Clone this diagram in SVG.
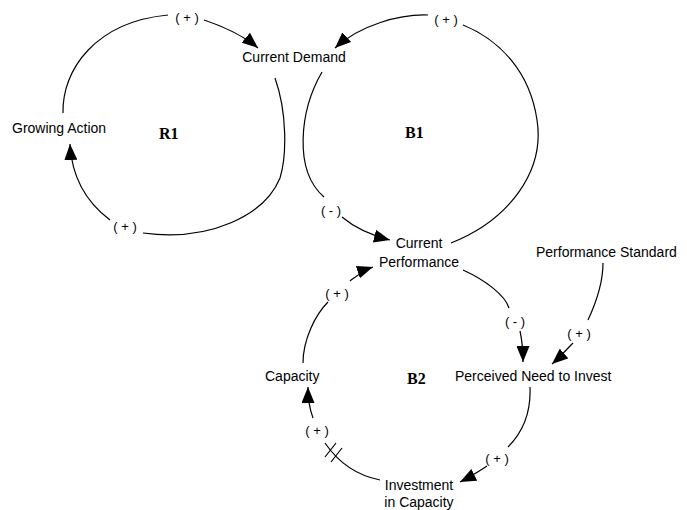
<svg xmlns="http://www.w3.org/2000/svg" width="687" height="510" viewBox="0 0 687 510">
  <style>
    .node { font-family: "Liberation Sans", Arial, sans-serif; font-size: 14px; fill: #000; }
    .pol { font-family: "Liberation Sans", Arial, sans-serif; font-size: 13px; fill: #000; text-anchor: middle; }
    .loop { font-family: "Liberation Serif", "Times New Roman", serif; font-size: 16px; font-weight: bold; fill: #000; }
    .link { fill: none; stroke: #000; stroke-width: 1.2; }
    .arr { marker-end: url(#ah); }
  </style>
  <defs>
    <marker id="ah" markerUnits="userSpaceOnUse" markerWidth="16" markerHeight="13" refX="16" refY="6.5" orient="auto">
      <path d="M0,0 L16,6.5 L0,13 z" fill="#000"/>
    </marker>
  </defs>
  <rect width="687" height="510" fill="#fff"/>

  <g id="connectors">
    <!-- Growing Action -> Current Demand -->
    <path class="link" d="M63,113 C62,70 95,22 168,15"/>
    <path class="link arr" d="M204,20 C225,27 245,37 258,48"/>
    <!-- Current Demand -> Growing Action -->
    <path class="link" d="M275,78 C287,112 287,155 280,178 C265,215 210,242 143,233"/>
    <path class="link arr" d="M110,220 C90,205 72,182 70,144"/>
    <!-- Current Demand -> Current Performance -->
    <path class="link" d="M322,72 C300,110 293,170 324,197"/>
    <path class="link arr" d="M342,217 C355,228 370,235 390,240"/>
    <!-- Current Performance -> Current Demand -->
    <path class="link" d="M451,243 C510,220 545,170 537,120 C530,72 500,40 463,25"/>
    <path class="link arr" d="M428,15 C400,14 360,25 335,48"/>
    <!-- Current Performance -> Perceived Need to Invest -->
    <path class="link" d="M463,270 C485,280 505,295 509,308"/>
    <path class="link arr" d="M520,331 C522,340 523,350 523,362"/>
    <!-- Performance Standard -> Perceived Need to Invest -->
    <path class="link" d="M603,263 C603,285 595,305 588,320"/>
    <path class="link arr" d="M573,343 C566,350 560,357 552,364"/>
    <!-- Perceived Need to Invest -> Investment in Capacity -->
    <path class="link" d="M530,387 C531,410 525,430 508,447"/>
    <path class="link arr" d="M487,466 C478,472 470,477 460,482"/>
    <!-- Investment in Capacity -> Capacity (delay) -->
    <path class="link" d="M380,480 C360,476 340,465 325,443"/>
    <path class="link" d="M325,457 L336,443 M331,462 L342,448"/>
    <path class="link arr" d="M313,418 C310,410 308,400 308,387"/>
    <!-- Capacity -> Current Performance -->
    <path class="link" d="M303,363 C303,340 315,315 328,302"/>
    <path class="link arr" d="M350,281 C358,275 364,270 373,267"/>
  </g>

  <g id="polarities">
    <text class="pol" x="187" y="22">( + )</text>
    <text class="pol" x="125" y="231">( + )</text>
    <text class="pol" x="446" y="24">( + )</text>
    <text class="pol" x="331" y="215">( - )</text>
    <text class="pol" x="337" y="298">( + )</text>
    <text class="pol" x="515" y="326">( - )</text>
    <text class="pol" x="579" y="338">( + )</text>
    <text class="pol" x="497" y="463">( + )</text>
    <text class="pol" x="317" y="435">( + )</text>
  </g>

  <g id="node-current-demand"><text class="node" x="294" y="62" text-anchor="middle">Current Demand</text></g>
  <g id="node-growing-action"><text class="node" x="12" y="133">Growing Action</text></g>
  <g id="node-current-performance">
    <text class="node" x="419" y="248" text-anchor="middle">Current</text>
    <text class="node" x="419" y="267" text-anchor="middle">Performance</text>
  </g>
  <g id="node-performance-standard"><text class="node" x="536" y="257">Performance Standard</text></g>
  <g id="node-capacity"><text class="node" x="265" y="381">Capacity</text></g>
  <g id="node-perceived-need"><text class="node" x="455" y="381">Perceived Need to Invest</text></g>
  <g id="node-investment">
    <text class="node" x="419" y="490" text-anchor="middle">Investment</text>
    <text class="node" x="419" y="507" text-anchor="middle">in Capacity</text>
  </g>

  <g id="loop-r1"><text class="loop" x="159" y="139">R1</text></g>
  <g id="loop-b1"><text class="loop" x="405" y="138">B1</text></g>
  <g id="loop-b2"><text class="loop" x="407" y="384">B2</text></g>
</svg>
